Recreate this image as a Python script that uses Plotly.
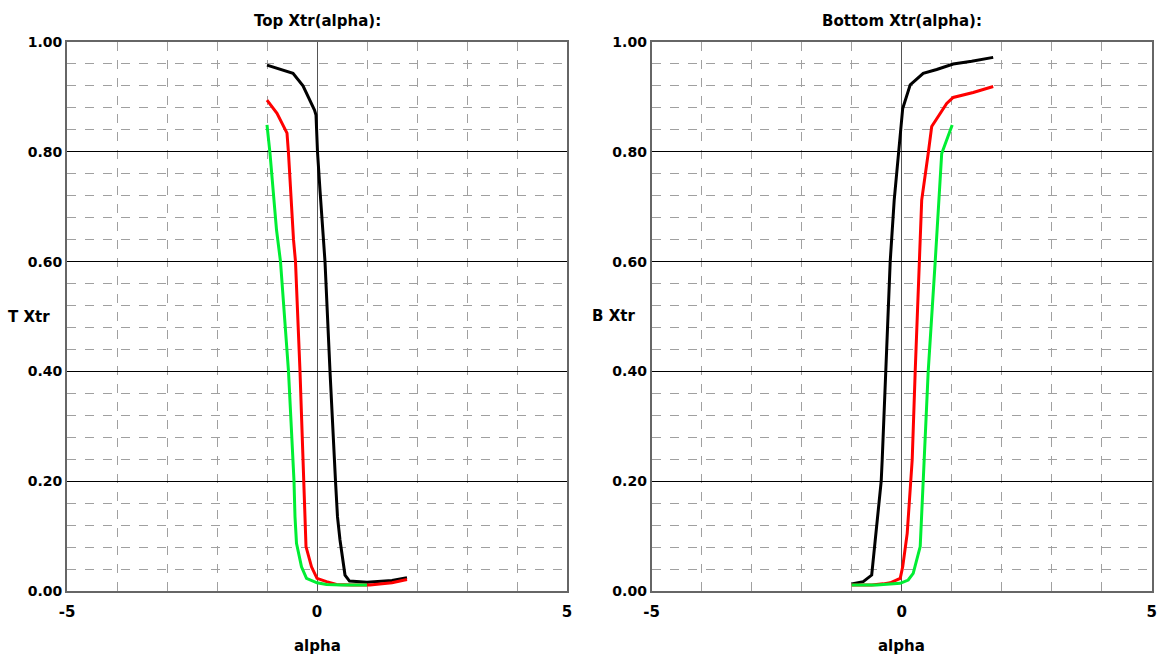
import plotly.graph_objects as go

# Top-surface transition location vs angle of attack
top_alpha_black = [-1.0, -0.67, -0.48, -0.28, -0.05, -0.02, 0.01, 0.06, 0.16, 0.26, 0.34, 0.37, 0.41, 0.46, 0.56, 0.65, 1.0, 1.5, 1.8]
top_xtr_black = [0.958, 0.949, 0.943, 0.92, 0.876, 0.867, 0.80, 0.73, 0.60, 0.40, 0.239, 0.2, 0.135, 0.093, 0.029, 0.018, 0.016, 0.019, 0.024]

top_alpha_red = [-1.0, -0.8, -0.6, -0.57, -0.47, -0.43, -0.34, -0.28, -0.26, -0.22, -0.11, 0.0, 0.19, 0.39, 0.7, 1.06, 1.5, 1.8]
top_xtr_red = [0.894, 0.87, 0.834, 0.797, 0.64, 0.60, 0.40, 0.24, 0.2, 0.081, 0.044, 0.023, 0.017, 0.012, 0.011, 0.011, 0.015, 0.021]

top_alpha_green = [-1.0, -0.94, -0.81, -0.73, -0.57, -0.47, -0.46, -0.44, -0.41, -0.31, -0.21, 0.0, 0.19, 0.5, 1.0]
top_xtr_green = [0.849, 0.797, 0.658, 0.60, 0.40, 0.239, 0.2, 0.135, 0.087, 0.044, 0.023, 0.015, 0.012, 0.011, 0.011]

# Bottom-surface transition location vs angle of attack
bot_alpha_black = [-1.0, -0.77, -0.6, -0.5, -0.41, -0.39, -0.32, -0.23, -0.15, -0.07, 0.02, 0.17, 0.43, 0.7, 1.03, 1.4, 1.83]
bot_xtr_black = [0.013, 0.017, 0.029, 0.117, 0.2, 0.239, 0.4, 0.6, 0.712, 0.797, 0.879, 0.922, 0.943, 0.95, 0.96, 0.965, 0.972]

bot_alpha_red = [-1.0, -0.6, -0.37, -0.23, -0.03, 0.02, 0.11, 0.19, 0.21, 0.27, 0.35, 0.4, 0.53, 0.6, 0.9, 1.03, 1.43, 1.83]
bot_xtr_red = [0.011, 0.011, 0.013, 0.015, 0.023, 0.044, 0.105, 0.2, 0.239, 0.4, 0.6, 0.712, 0.797, 0.846, 0.888, 0.899, 0.908, 0.919]

bot_alpha_green = [-1.0, -0.5, -0.03, 0.13, 0.23, 0.37, 0.43, 0.45, 0.53, 0.67, 0.75, 0.8, 1.01]
bot_xtr_green = [0.011, 0.011, 0.014, 0.02, 0.032, 0.081, 0.2, 0.239, 0.4, 0.6, 0.712, 0.797, 0.849]

x_ticks = [-5, 0, 5]
y_ticks = [0.0, 0.2, 0.4, 0.6, 0.8, 1.0]
y_tick_text = ["0.00", "0.20", "0.40", "0.60", "0.80", "1.00"]

BLACK = "#000000"
RED = "#ff0000"
GREEN = "#00ee33"
FONT = dict(family="DejaVu Sans", size=15, color="#000000", weight="bold")
TICKFONT = dict(family="DejaVu Sans", size=14, color="#000000", weight="bold")

fig = go.Figure()

def add(x, y, color, xa, ya):
    fig.add_trace(go.Scatter(x=x, y=y, mode="lines", xaxis=xa, yaxis=ya,
                             line=dict(color=color, width=3), showlegend=False,
                             hoverinfo="skip"))

add(top_alpha_black, top_xtr_black, BLACK, "x", "y")
add(top_alpha_red, top_xtr_red, RED, "x", "y")
add(top_alpha_green, top_xtr_green, GREEN, "x", "y")
add(bot_alpha_black, bot_xtr_black, BLACK, "x2", "y2")
add(bot_alpha_red, bot_xtr_red, RED, "x2", "y2")
add(bot_alpha_green, bot_xtr_green, GREEN, "x2", "y2")

W, H = 1161, 659
ydom = [(H - 591) / H, (H - 42) / H]
xdom1 = [67 / W, 567 / W]
xdom2 = [651.7 / W, 1151.7 / W]

def xaxis(dom, anchor):
    return dict(domain=dom, anchor=anchor, range=[-5, 5], tickvals=x_ticks,
                ticktext=[str(v) for v in x_ticks], showgrid=True,
                gridcolor="#555555", gridwidth=1, zeroline=False,
                showline=True, mirror=True, linecolor="#666666", linewidth=2,
                ticks="", ticklabelstandoff=6, tickfont=FONT, automargin=False,
                minor=dict(dtick=1, tick0=0, showgrid=True, griddash="dash",
                           gridcolor="#a0a0a0", gridwidth=1),
                fixedrange=True)

def yaxis(anchor):
    return dict(domain=ydom, anchor=anchor, range=[0, 1], tickvals=y_ticks,
                ticktext=y_tick_text, showgrid=True, gridcolor="#000000",
                gridwidth=1, zeroline=False, showline=True, mirror=True,
                linecolor="#666666", linewidth=2, ticks="", ticklabelstandoff=0,
                tickfont=TICKFONT, automargin=False,
                minor=dict(dtick=0.04, tick0=0, showgrid=True, griddash="dash",
                           gridcolor="#a0a0a0", gridwidth=1),
                fixedrange=True)

fig.update_layout(
    width=W, height=H,
    margin=dict(l=0, r=0, t=0, b=0, pad=0, autoexpand=False),
    paper_bgcolor="white", plot_bgcolor="white",
    font=FONT,
    xaxis=xaxis(xdom1, "y"), yaxis=yaxis("x"),
    xaxis2=xaxis(xdom2, "y2"), yaxis2=yaxis("x2"),
)

def label(text, px, py):
    fig.add_annotation(text=text, x=px / W, y=1 - py / H,
                       xref="paper", yref="paper", showarrow=False,
                       xanchor="center", yanchor="middle", font=FONT)

label("Top Xtr(alpha):", 317, 21)
label("Bottom Xtr(alpha):", 902, 21)
label("T Xtr", 29, 317)
label("B Xtr", 613, 316)
label("alpha", 317, 646)
label("alpha", 902, 646)

fig.write_html("out.html")
